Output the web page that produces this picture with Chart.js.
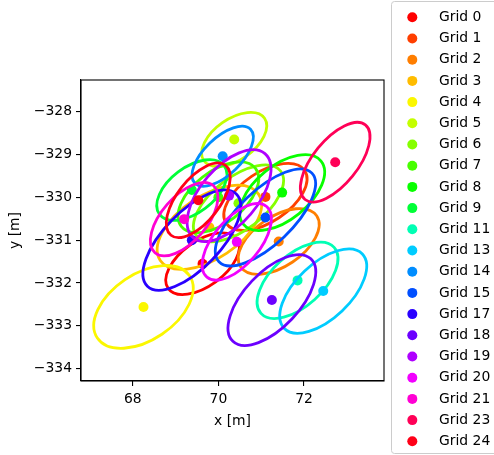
<!DOCTYPE html>
<html>
<head>
<meta charset="utf-8">
<script src="https://cdn.jsdelivr.net/npm/chart.js@4.4.1/dist/chart.umd.min.js"></script>
<style>
  html, body { margin: 0; padding: 0; background: #fff; }
  #wrap { width: 494px; height: 455px; }
</style>
</head>
<body>
<div id="wrap"><canvas id="chart" width="494" height="455"></canvas></div>
<script>
// grid ids, mean positions and covariance ellipses (full axis lengths, angle in degrees)
const grids = [0, 1, 2, 3, 4, 5, 6, 7, 8, 9, 11, 13, 14, 15, 17, 18, 19, 20, 21, 23, 24];
const pointX = [69.63, 71.10, 71.41, 69.79, 68.25, 70.37, 70.47, 70.00, 71.49, 69.38, 71.85, 72.45, 70.10, 71.10, 69.38, 71.25, 70.25, 70.43, 69.20, 72.73, 69.53];
const pointY = [-331.55, -329.99, -331.03, -330.70, -332.56, -328.65, -330.14, -330.00, -329.89, -329.83, -331.94, -332.19, -329.04, -330.47, -331.00, -332.40, -329.96, -331.04, -330.51, -329.18, -330.07];
const ellipseWidth = [1.98, 2.21, 2.14, 2.77, 2.60, 1.73, 2.48, 2.20, 2.34, 1.89, 2.30, 2.52, 1.81, 3.00, 2.99, 2.65, 2.58, 2.16, 2.08, 2.24, 2.07];
const ellipseHeight = [1.05, 1.16, 1.16, 1.46, 1.54, 0.96, 1.22, 1.20, 1.26, 1.06, 1.20, 1.28, 0.86, 1.26, 1.32, 1.29, 1.33, 1.07, 1.05, 1.04, 0.99];
const ellipseAngle = [36, 34, 34, 34, 34, 35, 37.5, 38, 39, 37, 42, 43.5, 44, 43.6, 46, 46.6, 49.5, 49.8, 49, 51, 52];
const xTicks = [68, 70, 72];
const yTicks = [-334, -333, -332, -331, -330, -329, -328];

// matplotlib "hsv" colormap
const hsvData = {
  r: [[0, 1], [0.15873, 1], [0.174603, 0.96875], [0.333333, 0.03125], [0.349206, 0], [0.666667, 0], [0.68254, 0], [0.84127, 1], [0.857143, 1], [1, 1]],
  g: [[0, 0], [0.15873, 0.9375], [0.174603, 1], [0.507937, 1], [0.666667, 0.0625], [0.68254, 0], [1, 0]],
  b: [[0, 0], [0.333333, 0], [0.349206, 0.0625], [0.507937, 1], [0.84127, 1], [0.857143, 0.9375], [1, 0.09375]]
};
const interp = (seg, v) => {
  for (let k = 1; k < seg.length; k++) {
    if (v <= seg[k][0]) {
      const t = (v - seg[k - 1][0]) / (seg[k][0] - seg[k - 1][0]);
      return seg[k - 1][1] + t * (seg[k][1] - seg[k - 1][1]);
    }
  }
  return seg[seg.length - 1][1];
};
const hsv = (v) => `rgb(${Math.round(255 * interp(hsvData.r, v))}, ${Math.round(255 * interp(hsvData.g, v))}, ${Math.round(255 * interp(hsvData.b, v))})`;
const colors = grids.map(g => hsv(g / 24));

const FONT = "'DejaVu Sans', sans-serif";
const fmt = (v) => (v < 0 ? '\u2212' + Math.abs(v) : String(v));

const extras = {
  id: 'extras',
  afterDatasetDraw(chart, args) {
    const i = args.index;
    const { ctx, chartArea: area, scales: { x, y } } = chart;
    const kx = x.getPixelForValue(1) - x.getPixelForValue(0);
    const ky = y.getPixelForValue(0) - y.getPixelForValue(1);
    ctx.save();
    ctx.beginPath();
    ctx.rect(area.left, area.top, area.right - area.left, area.bottom - area.top);
    ctx.clip();
    ctx.save();
    ctx.translate(x.getPixelForValue(pointX[i]), y.getPixelForValue(pointY[i]));
    ctx.scale(kx, -ky);
    ctx.beginPath();
    ctx.ellipse(0, 0, ellipseWidth[i] / 2, ellipseHeight[i] / 2, ellipseAngle[i] * Math.PI / 180, 0, 2 * Math.PI);
    ctx.restore();
    ctx.lineWidth = 2.8;
    ctx.strokeStyle = colors[i];
    ctx.stroke();
    ctx.restore();
  },
  afterDraw(chart) {
    const { ctx, chartArea: area } = chart;
    ctx.save();
    // frame
    ctx.strokeStyle = '#000';
    ctx.lineWidth = 1.1;
    ctx.strokeRect(area.left, area.top, area.right - area.left, area.bottom - area.top);
    // axis titles
    ctx.fillStyle = '#000';
    ctx.font = `13.9px ${FONT}`;
    ctx.textAlign = 'center';
    ctx.textBaseline = 'middle';
    ctx.fillText('x [m]', (area.left + area.right) / 2, 421);
    ctx.save();
    ctx.translate(15, (area.top + area.bottom) / 2);
    ctx.rotate(-Math.PI / 2);
    ctx.fillText('y [m]', 0, 0);
    ctx.restore();
    // legend
    ctx.beginPath();
    ctx.roundRect(391.5, 1.5, 130, 452, 3);
    ctx.fillStyle = '#fff';
    ctx.fill();
    ctx.strokeStyle = '#cccccc';
    ctx.lineWidth = 1;
    ctx.stroke();
    ctx.textAlign = 'left';
    grids.forEach((g, i) => {
      const ly = 17.3 + i * 21.2;
      ctx.beginPath();
      ctx.arc(412.3, ly, 5, 0, 2 * Math.PI);
      ctx.fillStyle = colors[i];
      ctx.fill();
      ctx.fillStyle = '#000';
      ctx.fillText(`Grid ${g}`, 439, ly);
    });
    ctx.restore();
  }
};

new Chart(document.getElementById('chart').getContext('2d'), {
  type: 'scatter',
  data: {
    datasets: grids.map((g, i) => ({
      label: `Grid ${g}`,
      data: [{ x: pointX[i], y: pointY[i] }],
      backgroundColor: colors[i],
      borderWidth: 0,
      pointRadius: 5,
      order: grids.length - i
    }))
  },
  options: {
    responsive: false,
    animation: false,
    devicePixelRatio: 1,
    layout: { padding: { left: 0, right: 110, top: 80, bottom: 0 } },
    plugins: { legend: { display: false }, tooltip: { enabled: false } },
    scales: {
      x: {
        type: 'linear',
        min: 66.79,
        max: 73.87,
        afterBuildTicks: (s) => { s.ticks = xTicks.map(v => ({ value: v })); },
        afterFit: (s) => { s.height = 74; },
        ticks: { font: { family: FONT, size: 13.9 }, color: '#000', padding: 5, maxRotation: 0, callback: fmt },
        grid: { drawOnChartArea: false, drawTicks: true, tickLength: 5, color: '#000', lineWidth: 1.1 },
        border: { display: true, color: '#000', width: 1.1 }
      },
      y: {
        type: 'linear',
        min: -334.29,
        max: -327.26,
        afterBuildTicks: (s) => { s.ticks = yTicks.map(v => ({ value: v })); },
        afterFit: (s) => { s.width = 81; },
        ticks: { font: { family: FONT, size: 13.9 }, color: '#000', padding: 4, callback: fmt },
        grid: { drawOnChartArea: false, drawTicks: true, tickLength: 5, color: '#000', lineWidth: 1.1 },
        border: { display: true, color: '#000', width: 1.1 }
      }
    }
  },
  plugins: [extras]
});
</script>
</body>
</html>
